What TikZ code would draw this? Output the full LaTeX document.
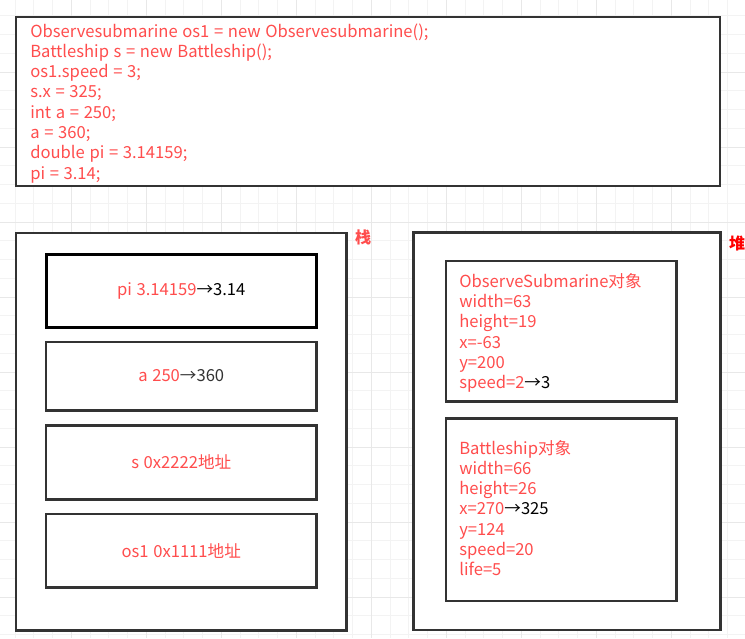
\documentclass[tikz,border=0pt]{standalone}
\usepackage{fontspec}
\setmainfont{Noto Sans CJK SC}[WordSpace=1.25]
\definecolor{codered}{RGB}{255,77,77}
\definecolor{boxgray}{RGB}{51,51,51}
\definecolor{gridminor}{RGB}{243,243,243}
\definecolor{gridmajor}{RGB}{232,232,232}

\begin{document}
\begin{tikzpicture}[x=1pt,y=-1pt,semithick]
\tikzstyle{frame}=[draw=boxgray,line width=2.4pt,fill=white,inner sep=0pt]
\tikzstyle{cell}=[frame,minimum width=270.5pt,text=codered,font=\fontsize{16.6}{20}\selectfont]
\tikzstyle{object}=[frame,minimum width=230.7pt]
\tikzstyle{txtline}=[anchor=base west,inner sep=0pt,text=codered,font=\fontsize{16.6}{20}\selectfont]
\tikzstyle{area}=[inner sep=0pt,font=\bfseries\fontsize{16}{20}\selectfont]
\useasboundingbox (0,0) rectangle (745,638);
\fill[white] (0,0) rectangle (745,638);
% grid
\foreach \k in {0,...,38} \draw[gridminor,line width=1pt] (15+18.75*\k,0) -- ++(0,638);
\foreach \k in {0,...,33} \draw[gridminor,line width=1pt] (0,15.75+18.75*\k) -- ++(745,0);
\foreach \k in {0,...,8} \draw[gridmajor,line width=1pt] (71.25+75*\k,0) -- ++(0,638);
\foreach \k in {0,...,7} \draw[gridmajor,line width=1pt] (0,72+75*\k) -- ++(745,0);
% code
\node[frame,minimum width=704pt,minimum height=169pt] (code) at (368,101.5) {};
\foreach \t [count=\i] in {Observesubmarine os1 = new Observesubmarine();,
  Battleship s = new Battleship();, os1.speed = 3;, s.x = 325;, int a = 250;,
  a = 360;, double pi = 3.14159;, pi = 3.14;}
  \node[txtline] (code\i) at (30,16.7+20.3*\i) {\t};
% stack
\node[frame,minimum width=330.5pt,minimum height=397.5pt] (stack) at (181.25,431.75) {};
\node[area,text=codered] (stacklbl) at (363,237.5) {栈};
\node[cell,draw=black,line width=3pt,minimum height=72.7pt] (pi) at (181.25,291.3) {pi 3.14159\textcolor{black}{→3.14}};
\node[cell,minimum height=68.6pt] (a) at (181.25,376) {a 250\textcolor{boxgray}{→360}};
\node[cell,minimum height=74pt] (s) at (181.25,462.3) {s 0x2222地址};
\node[cell,minimum height=73.7pt] (os1) at (181.25,550.8) {os1 0x1111地址};
% heap
\node[frame,minimum width=307pt,minimum height=397.5pt] (heap) at (567,431.25) {};
\node[area,text=red] (heaplbl) at (737,243) {堆};
\node[object,minimum height=140.7pt] (obja) at (561.3,331.3) {};
\foreach \t [count=\i] in {ObserveSubmarine对象, width=63, height=19, x=-63,
  y=200, speed=2\textcolor{black}{→3}}
  \node[txtline] (obja\i) at (459,266.8+20.3*\i) {\t};
\node[object,minimum height=182.4pt] (objb) at (561.3,509.5) {};
\foreach \t [count=\i] in {Battleship对象, width=66, height=26, x=270\textcolor{black}{→325},
  y=124, speed=20, life=5}
  \node[txtline] (objb\i) at (459,433.7+20.3*\i) {\t};
\end{tikzpicture}
\end{document}
